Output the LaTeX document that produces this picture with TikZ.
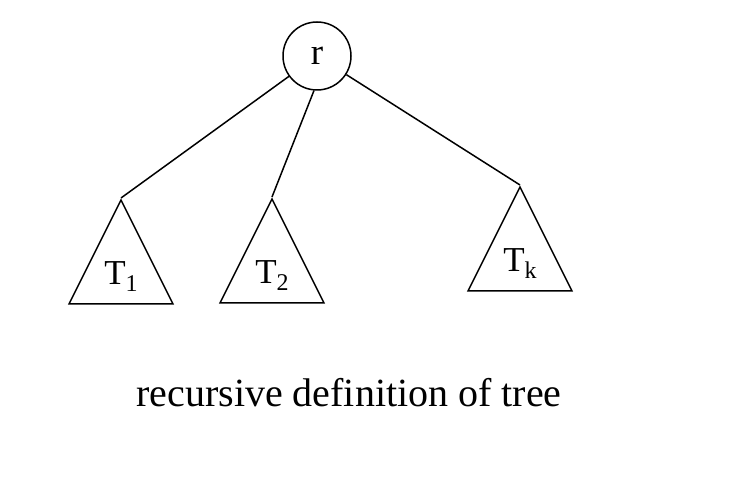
\documentclass[tikz,border=0pt]{standalone}
\usepackage{fontspec}
\setmainfont{Liberation Serif}
\usetikzlibrary{shapes.geometric}
\newcommand{\tsub}[1]{\raisebox{-7pt}{\fontsize{24}{24}\selectfont #1}}

\begin{document}
\begin{tikzpicture}[x=1pt,y=1pt,line width=1.5pt,
    subtree/.style={draw, isosceles triangle, shape border rotate=90,
      isosceles triangle stretches, minimum width=104pt, minimum height=104pt,
      inner sep=0pt, anchor=apex, font=\fontsize{35}{35}\selectfont}]
  \useasboundingbox (0,0) rectangle (732,504);
  \node[draw, circle, minimum size=68pt, inner sep=0pt,
    font=\fontsize{37}{37}\selectfont] (r) at (317,448) {r};
  \node[subtree] (t1) at (121,306) {T\tsub{1}};
  \node[subtree] (t2) at (272,307) {T\tsub{2}};
  \node[subtree] (tk) at (520,319) {T\tsub{k}};
  \draw (r) -- (t1.apex);
  \draw (r.-95) -- (t2.apex);
  \draw (r) -- (tk.apex);
  \node[anchor=base, font=\fontsize{40}{42}\selectfont] (caption) at (349,97)
    {recursive definition of tree};
\end{tikzpicture}
\end{document}
